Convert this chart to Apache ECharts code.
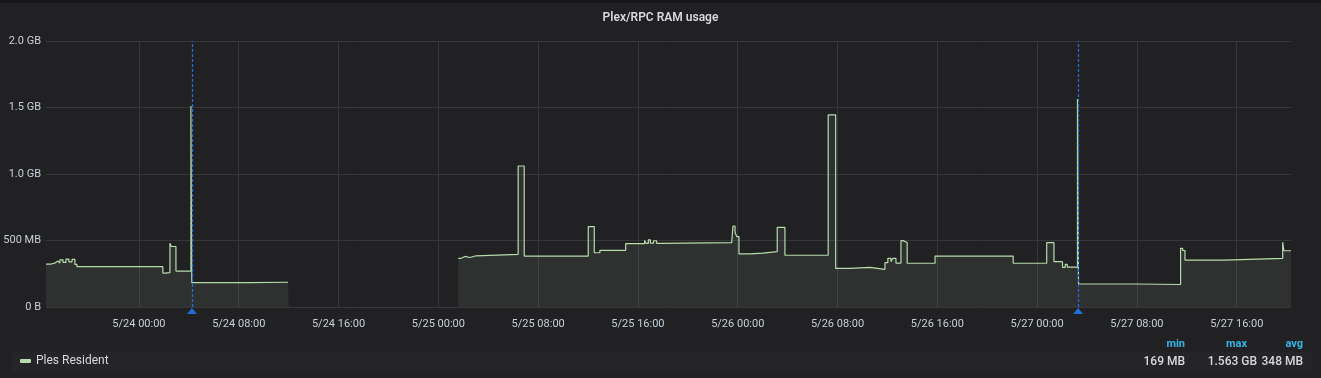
<!DOCTYPE html>
<html>
<head>
<meta charset="utf-8">
<script src="https://cdn.jsdelivr.net/npm/echarts@6/dist/echarts.min.js"></script>
<style>
html,body{margin:0;padding:0;background:#161719;}
#chart{width:1321px;height:378px;}
</style>
</head>
<body>
<div id="chart"></div>
<script>
// ---- data ----
const seriesName = 'Ples Resident';
const times = [
 '5/23 16:33','5/23 16:58','5/23 17:16','5/23 17:30','5/23 17:40','5/23 17:55','5/23 18:09','5/23 18:23','5/23 18:38','5/23 18:52','5/23 19:02',
 '5/24 01:55','5/24 02:05','5/24 02:10','5/24 02:29','5/24 02:36','5/24 02:58','5/24 04:10','5/24 04:14','5/24 08:50','5/24 11:57','5/24 12:00',
 '5/25 01:36','5/25 01:49','5/25 01:58','5/25 02:08','5/25 02:32','5/25 03:01','5/25 06:24','5/25 06:53','5/25 12:01','5/25 12:30','5/25 12:57',
 '5/25 15:01','5/25 16:32','5/25 16:40','5/25 16:50','5/25 17:00','5/25 17:15','5/25 17:30','5/25 17:50','5/25 23:31','5/25 23:37','5/25 23:47',
 '5/25 23:56','5/26 00:06','5/26 01:00','5/26 02:01','5/26 03:10','5/26 03:47','5/26 07:15','5/26 07:51','5/26 09:00','5/26 10:36','5/26 11:48',
 '5/26 12:02','5/26 12:17','5/26 12:26','5/26 12:41','5/26 13:05','5/26 13:15','5/26 13:35','5/26 15:49','5/26 22:05','5/27 00:46','5/27 01:21',
 '5/27 02:02','5/27 02:15','5/27 02:25','5/27 03:14','5/27 03:19','5/27 08:00','5/27 11:30','5/27 11:40','5/27 11:51','5/27 14:58','5/27 19:41',
 '5/27 19:47','5/27 20:21'
];
const valuesMB = [
 323,330,345,330,355,335,360,340,358,320,303,
 255,240,258,479,455,270,1511,183,186,186,null,
 366,355,380,372,385,396,1060,383,605,408,426,
 476,500,478,505,480,498,478,484,479,609,560,
 529,399,405,416,599,389,1444,291,298,283,333,
 366,340,366,330,499,485,329,383,329,484,341,
 298,320,300,1563,173,169,441,425,353,366,486,
 423,423
];
const tickLabels = ['5/24 00:00','5/24 08:00','5/24 16:00','5/25 00:00','5/25 08:00','5/25 16:00','5/26 00:00','5/26 08:00','5/26 16:00','5/27 00:00','5/27 08:00','5/27 16:00'];
const annotations = ['5/24 04:15', '5/27 03:17'];
const axisStart = '5/23 16:33';
const axisEnd = '5/27 20:21';
const statHeaders = ['min', 'max', 'avg'];
const statValues = ['169 MB', '1.563 GB', '348 MB'];

// hours from 5/24 00:00
function t(s){
  const [d, hm] = s.split(' ');
  const day = +d.split('/')[1];
  const [h, m] = hm.split(':').map(Number);
  return (day - 24) * 24 + h + m / 60;
}
const data = times.map((s, i) => [t(s), valuesMB[i]]);
const tickPos = tickLabels.map(t);
const labelMap = {};
tickLabels.forEach(l => { labelMap[t(l).toFixed(3)] = l; });

function fmtY(v){
  if (v === 0) return '0 B';
  if (v < 1000) return v + ' MB';
  return (v / 1000).toFixed(1) + ' GB';
}

const chart = echarts.init(document.getElementById('chart'));
const font = 'Roboto, "Noto Sans", sans-serif';
const annColor = '#1f6fd6';
const statRight = [1185, 1247, 1303];
const statValRight = [1185, 1257, 1303];
const graphics = [
  {type:'rect', shape:{x:0,y:3,width:1321,height:375}, style:{fill:'#212124'}, z:-10, silent:true},
  {type:'rect', shape:{x:12,y:352,width:1300,height:21}, style:{fill:'#252528'}, z:-9, silent:true}
];
statHeaders.forEach((h, i) => graphics.push({type:'text', x: statRight[i], y: 344, style:{text:h, fill:'#33b5e5', font:'bold 11px ' + font, textAlign:'right', textVerticalAlign:'middle'}}));
statValues.forEach((v, i) => graphics.push({type:'text', x: statValRight[i], y: 362, style:{text:v, fill:'#d8d9da', font:'500 12px ' + font, textAlign:'right', textVerticalAlign:'middle'}}));

chart.setOption({
  backgroundColor: 'transparent',
  animation: false,
  title: {
    text: 'Plex/RPC RAM usage', left: 'center', top: 7,
    textStyle: {color:'#d8d9da', fontSize:12, fontWeight:600, fontFamily:font}
  },
  legend: {
    data: [{name: seriesName, icon: 'roundRect'}],
    left: 20, top: 355, padding: 0, itemWidth: 11, itemHeight: 4, itemGap: 10,
    selectedMode: false,
    textStyle: {color:'#d8d9da', fontSize:12, fontFamily:font}
  },
  graphic: graphics,
  grid: {left: 46, right: 30, top: 41, bottom: 71, containLabel: false},
  xAxis: {
    type: 'value', min: t(axisStart), max: t(axisEnd),
    axisLine: {show:false},
    axisTick: {show:false, customValues: tickPos},
    axisLabel: {customValues: tickPos, color:'#c7d0d9', fontSize:11, fontFamily:font, margin:12,
      formatter: v => labelMap[v.toFixed(3)] || ''},
    splitLine: {show:true, lineStyle:{color:'#37373a', width:1}}
  },
  yAxis: {
    type: 'value', min: 0, max: 2000, interval: 500,
    axisLine: {show:false}, axisTick: {show:false},
    axisLabel: {color:'#c7d0d9', fontSize:11, fontFamily:font, margin:5, formatter: fmtY},
    splitLine: {show:true, lineStyle:{color:'#37373a', width:1}}
  },
  series: [{
    name: seriesName, type: 'line', step: 'end', data: data,
    showSymbol: false, symbol: 'none', connectNulls: false,
    lineStyle: {color:'#b7dbab', width:1.2},
    itemStyle: {color:'#b7dbab'},
    areaStyle: {color:'rgba(183,219,171,0.12)'},
    markLine: {
      silent: true, symbol: ['none','none'], label: {show:false}, z: 10,
      lineStyle: {color: annColor, type:[3,2], width:1.3, opacity: 1},
      emphasis: {disabled: true},
      data: annotations.map(a => ({xAxis: t(a), lineStyle: {color: annColor}}))
    },
    markPoint: {
      silent: true, symbol: 'triangle', symbolSize: [10,6], symbolOffset: [0,4],
      label: {show:false}, itemStyle: {color: annColor},
      data: annotations.map(a => ({coord: [t(a), 0]}))
    }
  }]
});
</script>
</body>
</html>
